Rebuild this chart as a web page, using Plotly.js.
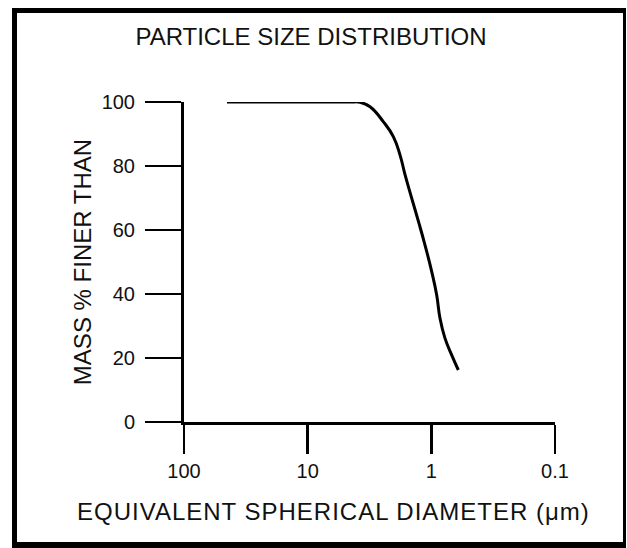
<!DOCTYPE html>
<html>
<head>
<meta charset="utf-8">
<script src="https://cdn.plot.ly/plotly-3.0.1.min.js"></script>
<style>
  html, body { margin: 0; padding: 0; background: #fff; }
  #wrap { position: relative; width: 627px; height: 548px; overflow: hidden; }
  #chart { position: absolute; left: 0; top: 0; width: 627px; height: 548px; }
  #shadow { position: absolute; left: 4px; top: 29px; width: 8px; height: 519px; background: #cfcfcf; }
  #frame { position: absolute; left: 12px; top: 8px; width: 614px; height: 540px; box-sizing: border-box;
           border-left: 5px solid #000; border-top: 5px solid #000; border-right: 3px solid #000; border-bottom: 6px solid #000;
           pointer-events: none; }
  .annotation-text { letter-spacing: 1px; }
</style>
</head>
<body>
<div id="wrap">
  <div id="shadow"></div>
  <div id="chart"></div>
  <div id="frame"></div>
</div>
<script>
// Equivalent spherical diameter (µm) and mass % finer than
var diameters = [44.9, 11.6, 4.55, 3.77, 3.13, 2.44, 2.03, 1.79, 1.63, 1.44, 1.27, 1.125, 0.993, 0.905, 0.851, 0.776, 0.684, 0.605];
var massFiner = [100, 100, 100, 99.9, 98.5, 93.8, 89.2, 83.4, 77.2, 69.9, 62.6, 55.3, 47.0, 39.7, 32.4, 26.2, 20.9, 16.25];

var xTickVals = [100, 10, 1, 0.1];
var xTickText = ["100", "10", "1", "0.1"];
var yTickVals = [0, 20, 40, 60, 80, 100];
var yTickText = ["0", "20", "40", "60", "80", "100"];

var chartTitle = "PARTICLE SIZE DISTRIBUTION";
var xTitle = "EQUIVALENT SPHERICAL DIAMETER (μm)";
var yTitle = "MASS % FINER THAN";

var FONT = "Liberation Sans, Arial, Helvetica, sans-serif";

var trace = {
  x: diameters,
  y: massFiner,
  type: "scatter",
  mode: "lines",
  line: { color: "#000", width: 3, shape: "spline", smoothing: 1.3 },
  hoverinfo: "x+y"
};

var layout = {
  width: 627,
  height: 548,
  margin: { l: 184, r: 72, t: 102, b: 126, pad: 0 },
  paper_bgcolor: "#fff",
  plot_bgcolor: "#fff",
  showlegend: false,
  font: { family: FONT, color: "#111" },
  title: {
    text: chartTitle,
    font: { family: FONT, size: 24, color: "#111" },
    xref: "container", x: 311 / 627, xanchor: "center",
    yref: "container", y: 1 - 37 / 548, yanchor: "middle"
  },
  xaxis: {
    type: "log",
    range: [2, -1],
    tickmode: "array",
    tickvals: xTickVals,
    ticktext: xTickText,
    ticks: "outside",
    ticklen: 29,
    tickwidth: 2.5,
    tickcolor: "#000",
    ticklabelstandoff: 0,
    tickfont: { family: FONT, size: 20, color: "#111" },
    showline: true,
    linecolor: "#000",
    linewidth: 3,
    showgrid: false,
    zeroline: false,
    fixedrange: true
  },
  yaxis: {
    range: [0, 100],
    tickmode: "array",
    tickvals: yTickVals,
    ticktext: yTickText,
    ticks: "outside",
    ticklen: 36,
    tickwidth: 2.5,
    tickcolor: "#000",
    ticklabelstandoff: 6,
    tickfont: { family: FONT, size: 20, color: "#111" },
    showline: true,
    linecolor: "#000",
    linewidth: 3,
    showgrid: false,
    zeroline: false,
    fixedrange: true,
    title: {
      text: yTitle,
      font: { family: FONT, size: 24, color: "#111" },
      standoff: 4
    }
  },
  annotations: [{
    text: xTitle,
    xref: "paper", yref: "paper",
    x: (333.5 - 184) / 371, y: (422 - 511) / 320,
    xanchor: "center", yanchor: "middle",
    showarrow: false,
    font: { family: FONT, size: 24, color: "#111" }
  }]
};

Plotly.newPlot("chart", [trace], layout, { displayModeBar: false, staticPlot: true });
</script>
</body>
</html>
